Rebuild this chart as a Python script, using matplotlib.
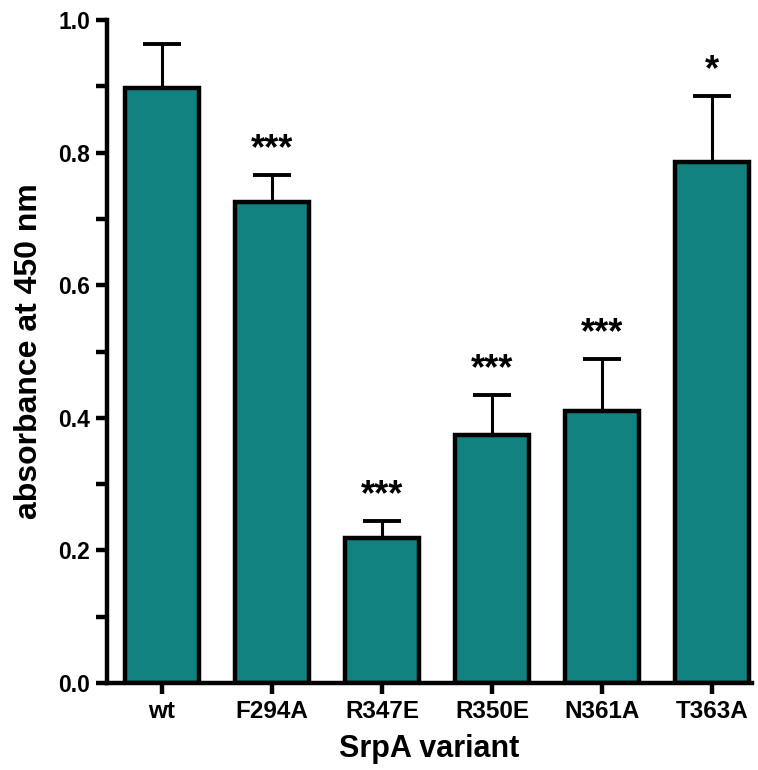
import numpy as np
import matplotlib
matplotlib.use("Agg")
from matplotlib import pyplot as plt
from matplotlib import font_manager as fm
from matplotlib.ticker import MultipleLocator

variants = ["wt", "F294A", "R347E", "R350E", "N361A", "T363A"]
absorbance = [0.897, 0.725, 0.219, 0.374, 0.410, 0.786]
err = [0.067, 0.041, 0.025, 0.060, 0.079, 0.099]
signif = ["", "***", "***", "***", "***", "*"]

# use the regular-width Liberation Sans Bold file (avoid the Narrow variant)
bold_file = None
for f in fm.findSystemFonts():
    if f.endswith("LiberationSans-Bold.ttf"):
        bold_file = f
        break

def fp(size):
    if bold_file:
        return fm.FontProperties(fname=bold_file, size=size)
    return fm.FontProperties(family='DejaVu Sans', weight='bold', size=size)

fig = plt.figure(figsize=(7.58, 7.70), dpi=100)
ax = fig.add_axes([0.141, 0.113, 0.851, 0.861])

x = np.arange(len(variants))
ax.bar(x, absorbance, width=0.67, color='#128280', edgecolor='black',
       linewidth=3.2, zorder=2)
ax.errorbar(x, absorbance, yerr=[np.zeros(len(err)), err], fmt='none',
            ecolor='black', elinewidth=2.2, capsize=14, capthick=2.8, zorder=1)

for xi, v, e, s in zip(x, absorbance, err, signif):
    if s:
        ax.text(xi, v + e + 0.012, s, ha='center', va='bottom',
                fontproperties=fp(26))

ax.set_xlim(-0.5, 5.36)
ax.set_ylim(0, 1.0)
ax.yaxis.set_minor_locator(MultipleLocator(0.1))
ax.set_yticks(np.arange(0, 1.01, 0.2))
ax.set_yticklabels([f"{t:.1f}" for t in np.arange(0, 1.01, 0.2)], fontproperties=fp(16.5))
ax.set_xticks(x)
ax.set_xticklabels(variants, fontproperties=fp(17.5))

for sp in ['top', 'right']:
    ax.spines[sp].set_visible(False)
for sp in ['left', 'bottom']:
    ax.spines[sp].set_linewidth(3.2)

ax.tick_params(axis='both', which='major', width=3.2, length=8, pad=4)
ax.tick_params(axis='y', which='minor', width=3.2, length=8)

ax.set_ylabel("absorbance at 450 nm", fontproperties=fp(23), labelpad=10)
ax.set_xlabel("SrpA variant", fontproperties=fp(22), labelpad=8)

fig.savefig("out.png", dpi=100)
